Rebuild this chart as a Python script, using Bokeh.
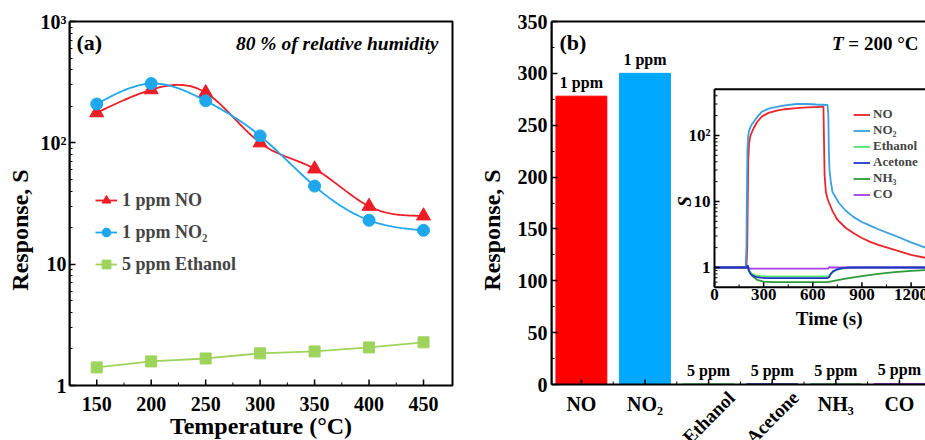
import numpy as np
from bokeh.plotting import figure
from bokeh.layouts import row
from bokeh.models import (Range1d, LinearScale, LogScale, FixedTicker, Legend,
                          LegendItem, BoxAnnotation)
from bokeh.core.properties import value
from bokeh.embed import file_html
from bokeh.resources import INLINE

FONT = "Liberation Serif"

# ---------------- panel (a) data ----------------
temperatures = [150, 200, 250, 300, 350, 400, 450]
response_no = [177, 274, 259, 100, 61, 30, 25]
response_no2 = [209, 308, 222, 114, 44, 23, 19]
response_ethanol = [1.41, 1.58, 1.67, 1.84, 1.91, 2.06, 2.27]
temp_ticks = [150, 200, 250, 300, 350, 400, 450]
temp_minor_ticks = [175, 225, 275, 325, 375, 425]
log_ticks = [1, 10, 100, 1000]
log_tick_labels = ["1", "10", "10²", "10³"]
legend_a_labels = ["1 ppm NO", "1 ppm NO₂", "5 ppm Ethanol"]

# ---------------- panel (b) data ----------------
gases = ["NO", "NO₂", "Ethanol", "Acetone", "NH₃", "CO"]
gas_response = [278, 300, 0.73, 0.70, 0.60, 0.97]
gas_concentration = ["1 ppm", "1 ppm", "5 ppm", "5 ppm", "5 ppm", "5 ppm"]
gas_label_rotated = [False, False, True, True, False, False]
bar_ticks = [0, 50, 100, 150, 200, 250, 300, 350]

# ---------------- inset data (response transients) ----------------
time_no = [0, 195, 200, 203, 206, 210, 215, 220, 230, 240, 260, 290, 330, 380, 430,
           500, 560, 620, 665, 668, 672, 680, 690, 700, 720, 750, 800, 850, 900, 950,
           1000, 1100, 1200, 1300, 1400]
s_no = [1, 1, 2, 10, 40, 70, 88, 100, 115, 130, 160, 195, 220, 238, 250,
        260, 266, 270, 273, 100, 25, 14, 11, 9.5, 7.2, 5.3, 4.0, 3.3, 2.8, 2.45,
        2.2, 1.85, 1.55, 1.38, 1.3]
time_no2 = [0, 190, 195, 198, 201, 205, 210, 215, 220, 230, 240, 260, 290, 330, 380,
            430, 500, 560, 620, 690, 695, 698, 702, 710, 720, 740, 760, 800, 850, 900,
            950, 1000, 1100, 1200, 1300, 1400]
s_no2 = [1, 1, 2, 15, 60, 95, 115, 125, 135, 150, 162, 190, 230, 255, 272,
         285, 300, 300, 295, 290, 200, 60, 30, 20, 14, 11.5, 9.5, 7.3, 5.8, 4.9,
         4.3, 3.8, 3.05, 2.4, 1.95, 1.75]
time_ethanol = [0, 200, 205, 215, 230, 250, 280, 320, 400, 690, 700, 720, 750, 800, 900, 1400]
s_ethanol = [1, 1, 0.95, 0.86, 0.8, 0.76, 0.74, 0.73, 0.73, 0.73, 0.75, 0.84, 0.93, 0.98, 1.0, 1.0]
time_acetone = [0, 200, 203, 208, 215, 230, 250, 280, 320, 690, 700, 710, 725, 750, 780, 820, 900, 1400]
s_acetone = [1, 1, 1.08, 0.95, 0.83, 0.76, 0.72, 0.70, 0.69, 0.69, 0.72, 0.80, 0.88, 0.94, 0.98, 1.0, 1.0, 1.0]
time_nh3 = [0, 200, 210, 230, 260, 300, 350, 690, 720, 760, 800, 900, 1000, 1100, 1200, 1300, 1400]
s_nh3 = [1, 1, 0.9, 0.75, 0.65, 0.61, 0.6, 0.6, 0.62, 0.65, 0.68, 0.74, 0.8, 0.85, 0.89, 0.92, 0.94]
time_co = [0, 200, 210, 220, 690, 695, 700, 710, 1400]
s_co = [1, 1, 0.98, 0.96, 0.96, 0.96, 1.01, 1.0, 1.0]
inset_names = ["NO", "NO₂", "Ethanol", "Acetone", "NH₃", "CO"]
inset_xticks = [0, 300, 600, 900, 1200]
inset_xminor = [150, 450, 750, 1050, 1350]
inset_yticks = [1, 10, 100]
inset_ytick_labels = ["1", "10", "10²"]
inset_yminor = [0.5, 0.6, 0.7, 0.8, 0.9, 2, 3, 4, 5, 6, 7, 8, 9,
                20, 30, 40, 50, 60, 70, 80, 90, 200, 300, 400, 500]

# ---------------- colours ----------------
C_NO_A, C_NO2_A, C_ETH_A = "#ee1c24", "#1ea7ec", "#9ed35c"
BAR_COLORS = ["#ff0000", "#00a8ff", "#5be36b", "#2036c8", "#2e9a3a", "#a040e8"]
INSET_COLORS = ["#e8262b", "#3aa0e0", "#5be36b", "#2036c8", "#2e9a3a", "#a040e8"]


def natural_spline(x, y, n=200):
    x = np.asarray(x, float)
    y = np.asarray(y, float)
    m = len(x)
    h = np.diff(x)
    A = np.zeros((m, m))
    r = np.zeros(m)
    A[0, 0] = A[-1, -1] = 1
    for i in range(1, m - 1):
        A[i, i - 1] = h[i - 1]
        A[i, i] = 2 * (h[i - 1] + h[i])
        A[i, i + 1] = h[i]
        r[i] = 3 * ((y[i + 1] - y[i]) / h[i] - (y[i] - y[i - 1]) / h[i - 1])
    c = np.linalg.solve(A, r)
    xs = np.linspace(x[0], x[-1], n)
    k = np.clip(np.searchsorted(x, xs) - 1, 0, m - 2)
    dx = xs - x[k]
    b = (y[k + 1] - y[k]) / h[k] - h[k] * (2 * c[k] + c[k + 1]) / 3
    d = (c[k + 1] - c[k]) / (3 * h[k])
    return xs, y[k] + b * dx + c[k] * dx ** 2 + d * dx ** 3


def style_axis(ax, tick_size="20px", label_size="24px"):
    ax.axis_line_width = 2
    ax.axis_line_color = "black"
    ax.major_tick_in = 6
    ax.major_tick_out = 0
    ax.minor_tick_in = 3
    ax.minor_tick_out = 0
    ax.major_tick_line_width = 1.5
    ax.minor_tick_line_width = 1
    ax.major_label_text_font = FONT
    ax.major_label_text_font_style = "bold"
    ax.major_label_text_font_size = tick_size
    ax.major_label_text_color = "black"
    ax.axis_label_text_font = FONT
    ax.axis_label_text_font_style = "bold"
    ax.axis_label_text_font_size = label_size
    ax.axis_label_text_color = "black"


TXT = dict(text_font=value(FONT), text_font_style="bold", text_color="black")

W_A, W_B, H = 470, 455, 440
MT = 19                          # frame top (both panels)
BOX_TOP_PX = 21                  # pixel row of the drawn top border

# =============== panel (a) ===============
XA0, XA1 = 125, 476.6            # box left / right in data units
BOX_A_LEFT, BOX_A_RIGHT = 69, 452
PX_PER_UNIT_A = (BOX_A_RIGHT - BOX_A_LEFT) / (XA1 - XA0)
MR_A = 16
XA_END = XA1 + (W_A - MR_A - BOX_A_RIGHT) / PX_PER_UNIT_A
AXIS_A_PX = 385                  # pixel row of S = 1 (bottom axis line)
YA_TOP = 1000
PX_PER_DECADE_A = (AXIS_A_PX - BOX_TOP_PX) / 3
YA_LO = 10 ** (-(H - AXIS_A_PX) / PX_PER_DECADE_A)
YA_HI = YA_TOP * 10 ** ((BOX_TOP_PX - MT) / PX_PER_DECADE_A)
p1 = figure(width=W_A, height=H, x_range=Range1d(XA0, XA_END), y_range=Range1d(YA_LO, YA_HI),
            y_axis_type="log", output_backend="svg", toolbar_location=None,
            min_border_left=BOX_A_LEFT, min_border_right=MR_A, min_border_top=MT,
            min_border_bottom=0)
p1.grid.visible = False
p1.outline_line_color = None
p1.background_fill_color = "white"
p1.border_fill_color = "white"
p1.xaxis.visible = False
style_axis(p1.yaxis[0])
p1.yaxis.bounds = (1, YA_TOP)
p1.yaxis.ticker = FixedTicker(ticks=log_ticks,
                              minor_ticks=[m * d for d in (1, 10, 100) for m in range(2, 10)])
p1.yaxis.major_label_overrides = dict(zip(log_ticks, log_tick_labels))
p1.yaxis.axis_label = "Response, S"
p1.yaxis.major_label_standoff = 3
p1.yaxis.axis_label_standoff = 5
# the box of panel (a)
p1.add_layout(BoxAnnotation(left=XA0, right=XA1, bottom=1, top=YA_TOP, fill_alpha=0,
                            line_color="black", line_width=2, line_alpha=1))
p1.ray(x=temp_ticks, y=[1] * len(temp_ticks), length=6, angle=np.pi / 2, length_units="screen",
       line_color="black", line_width=1.5)
p1.ray(x=temp_minor_ticks, y=[1] * len(temp_minor_ticks), length=3, angle=np.pi / 2,
       length_units="screen", line_color="black", line_width=1)
p1.text(x=temp_ticks, y=[1] * len(temp_ticks), text=[str(t) for t in temp_ticks],
        text_align="center", text_baseline="middle", y_offset=18, text_font_size="20px", **TXT)
p1.text(x=[(XA0 + XA1) / 2], y=[1], text=["Temperature (°C)"], text_align="center",
        text_baseline="middle", y_offset=40, text_font_size="24px", **TXT)

sx, sy = natural_spline(temperatures, np.log10(response_no))
r_no_l = p1.line(sx, 10 ** sy, line_color=C_NO_A, line_width=1.8)
r_no_p = p1.scatter(temperatures, response_no, marker="triangle", size=14, color=C_NO_A)
sx, sy = natural_spline(temperatures, np.log10(response_no2))
r_no2_l = p1.line(sx, 10 ** sy, line_color=C_NO2_A, line_width=1.8)
r_no2_p = p1.scatter(temperatures, response_no2, marker="circle", size=12, color=C_NO2_A)
r_eth_l = p1.line(temperatures, response_ethanol, line_color=C_ETH_A, line_width=1.8)
r_eth_p = p1.scatter(temperatures, response_ethanol, marker="square", size=11, color=C_ETH_A)

leg1 = Legend(items=[LegendItem(label=legend_a_labels[0], renderers=[r_no_l, r_no_p]),
                     LegendItem(label=legend_a_labels[1], renderers=[r_no2_l, r_no2_p]),
                     LegendItem(label=legend_a_labels[2], renderers=[r_eth_l, r_eth_p])],
              location=(26, 106 + H - AXIS_A_PX), label_text_font=FONT,
              label_text_font_style="bold",
              label_text_font_size="18px", glyph_width=22, glyph_height=30, label_height=30,
              spacing=2, padding=0, margin=0, label_standoff=5,
              background_fill_alpha=0, border_line_color=None)
p1.add_layout(leg1)

p1.text(x=[XA0], y=[YA_TOP], text=["(a)"], x_offset=7, y_offset=21, text_baseline="middle",
        text_font_size="22px", **TXT)
p1.text(x=[XA1], y=[YA_TOP], text=["80 % of relative humidity"], x_offset=-14, y_offset=22,
        text_align="right", text_baseline="middle", text_font_size="19.5px",
        text_font=value(FONT), text_font_style="bold italic", text_color="black")

# =============== panel (b) ===============
ML_B = 81
AXIS_Y_PX = 384                 # pixel row of S = 0 (bottom axis line)
YB_TOP = 350
PX_PER_UNIT_B = (AXIS_Y_PX - BOX_TOP_PX) / YB_TOP
YB_LO = -(H - AXIS_Y_PX) / PX_PER_UNIT_B
YB_HI = YB_TOP + (BOX_TOP_PX - MT) / PX_PER_UNIT_B
XB0, XB1 = -0.47, 5.41
p2 = figure(width=W_B, height=H, x_range=Range1d(XB0, XB1), y_range=Range1d(YB_LO, YB_HI),
            output_backend="svg", toolbar_location=None,
            min_border_left=ML_B, min_border_right=0, min_border_top=MT, min_border_bottom=0)
p2.grid.visible = False
p2.outline_line_color = None
p2.background_fill_color = "white"
p2.border_fill_color = "white"
p2.xaxis.visible = False
style_axis(p2.yaxis[0])
p2.yaxis.bounds = (0, YB_TOP)
p2.yaxis.ticker = FixedTicker(ticks=bar_ticks, minor_ticks=[t + 25 for t in bar_ticks[:-1]])
p2.yaxis.axis_label = "Response, S"
p2.yaxis.major_label_standoff = 4
p2.yaxis.axis_label_standoff = 10
# box of panel (b): its right side lies beyond the visible area
p2.add_layout(BoxAnnotation(left=XB0, right=XB1 + 1, bottom=0, top=YB_TOP, fill_alpha=0,
                            line_color="black", line_width=2, line_alpha=1))

idx = list(range(len(gases)))
p2.vbar(x=idx, top=gas_response, width=0.8, fill_color=BAR_COLORS, line_color=BAR_COLORS)
p2.ray(x=idx, y=[0] * len(idx), length=5, angle=np.pi / 2, length_units="screen",
       line_color="black", line_width=1.5)
p2.ray(x=[i + 0.5 for i in idx[:-1]], y=[0] * (len(idx) - 1), length=3, angle=np.pi / 2,
       length_units="screen", line_color="black", line_width=1)
p2.text(x=idx, y=gas_response, text=gas_concentration, text_align="center",
        text_baseline="bottom", y_offset=-5, text_font_size="16px", **TXT)
flat = [i for i in idx if not gas_label_rotated[i]]
tilt = [i for i in idx if gas_label_rotated[i]]
p2.text(x=flat, y=[0] * len(flat), text=[gases[i] for i in flat], text_align="center",
        text_baseline="middle", y_offset=19, text_font_size="20px", **TXT)
p2.text(x=tilt, y=[0] * len(tilt), text=[gases[i] for i in tilt], text_align="center",
        text_baseline="middle", y_offset=33, angle=np.pi / 4, text_font_size="19px", **TXT)

p2.text(x=[XB0], y=[YB_TOP], text=["(b)"], x_offset=8, y_offset=21, text_baseline="middle",
        text_font_size="22px", **TXT)
p2.text(x=[XB1], y=[YB_TOP], text=["= 200 °C"], x_offset=-7, y_offset=22, text_align="right",
        text_baseline="middle", text_font_size="19px", **TXT)
p2.text(x=[XB1], y=[YB_TOP], text=["T"], x_offset=-82, y_offset=22, text_align="right",
        text_baseline="middle", text_font_size="19px", text_font=value(FONT),
        text_font_style="bold italic", text_color="black")

# ---- inset drawn on extra ranges of panel (b) ----
FRAME_B_W = W_B - ML_B
FRAME_B_H = H - MT
INSET_OFFSET_PX = 163        # inset left edge, pixels from frame left
PX_PER_S = 0.1638
S1_PX = 267                  # pixel row of the inset's S = 1 level
ONE_FROM_TOP_PX = S1_PX - MT
PX_PER_DECADE = 66
T_LO = -INSET_OFFSET_PX / PX_PER_S
T_HI = (FRAME_B_W - INSET_OFFSET_PX) / PX_PER_S
S_HI = 10 ** (ONE_FROM_TOP_PX / PX_PER_DECADE)
S_LO = 10 ** (-(FRAME_B_H - ONE_FROM_TOP_PX) / PX_PER_DECADE)
p2.extra_x_ranges = {"t": Range1d(T_LO, T_HI)}
p2.extra_y_ranges = {"s": Range1d(S_LO, S_HI)}
p2.extra_x_scales = {"t": LinearScale()}
p2.extra_y_scales = {"s": LogScale()}
IR = dict(x_range_name="t", y_range_name="s")
T_MIN, T_MAX, S_MIN, S_MAX = 0, 1400, 0.5, 500

series = [(time_no, s_no), (time_no2, s_no2), (time_ethanol, s_ethanol),
          (time_acetone, s_acetone), (time_nh3, s_nh3), (time_co, s_co)]
draw_order = [4, 2, 5, 0, 1, 3]
inset_r = {}
for k in draw_order:
    t, s = series[k]
    inset_r[k] = p2.line(t, s, line_color=INSET_COLORS[k], line_width=1.8, **IR)

p2.segment(x0=[T_MIN, T_MIN, T_MIN], y0=[S_MIN, S_MAX, S_MIN],
           x1=[T_MIN, T_MAX, T_MAX], y1=[S_MAX, S_MAX, S_MIN],
           line_color="black", line_width=2, **IR)
p2.ray(x=inset_xticks, y=[S_MIN] * len(inset_xticks), length=5, angle=np.pi / 2,
       length_units="screen", line_color="black", line_width=1.5, **IR)
p2.ray(x=inset_xminor, y=[S_MIN] * len(inset_xminor), length=3, angle=np.pi / 2,
       length_units="screen", line_color="black", line_width=1, **IR)
p2.ray(x=[T_MIN] * len(inset_yticks), y=inset_yticks, length=5, angle=0,
       length_units="screen", line_color="black", line_width=1.5, **IR)
p2.ray(x=[T_MIN] * len(inset_yminor), y=inset_yminor, length=3, angle=0,
       length_units="screen", line_color="black", line_width=1, **IR)
p2.text(x=inset_xticks, y=[S_MIN] * len(inset_xticks), text=[str(t) for t in inset_xticks],
        text_align="center", text_baseline="top", y_offset=2, text_font_size="17px", **TXT, **IR)
p2.text(x=[T_MIN] * len(inset_yticks), y=inset_yticks, text=inset_ytick_labels,
        text_align="right", text_baseline="middle", x_offset=-4, text_font_size="17px", **TXT, **IR)
p2.text(x=[700], y=[S_MIN], text=["Time (s)"], text_align="center", text_baseline="middle",
        y_offset=31, text_font_size="19px", **TXT, **IR)
p2.text(x=[T_MIN], y=[10], text=["S"], text_align="center", text_baseline="middle",
        x_offset=-30, angle=np.pi / 2, text_font_size="19px", text_font=value(FONT),
        text_font_style="bold italic", text_color="black", **IR)

leg2 = Legend(items=[LegendItem(label=inset_names[k], renderers=[inset_r[k]]) for k in range(6)],
              location=(302, H - 202), label_text_font=FONT, label_text_font_style="bold",
              label_text_font_size="13px", glyph_width=17, glyph_height=15, label_height=15,
              spacing=0, padding=0, margin=0, label_standoff=3,
              background_fill_alpha=0, border_line_color=None)
p2.add_layout(leg2)

layout = row(p1, p2)
open("out.html", "w").write(file_html(layout, INLINE))
